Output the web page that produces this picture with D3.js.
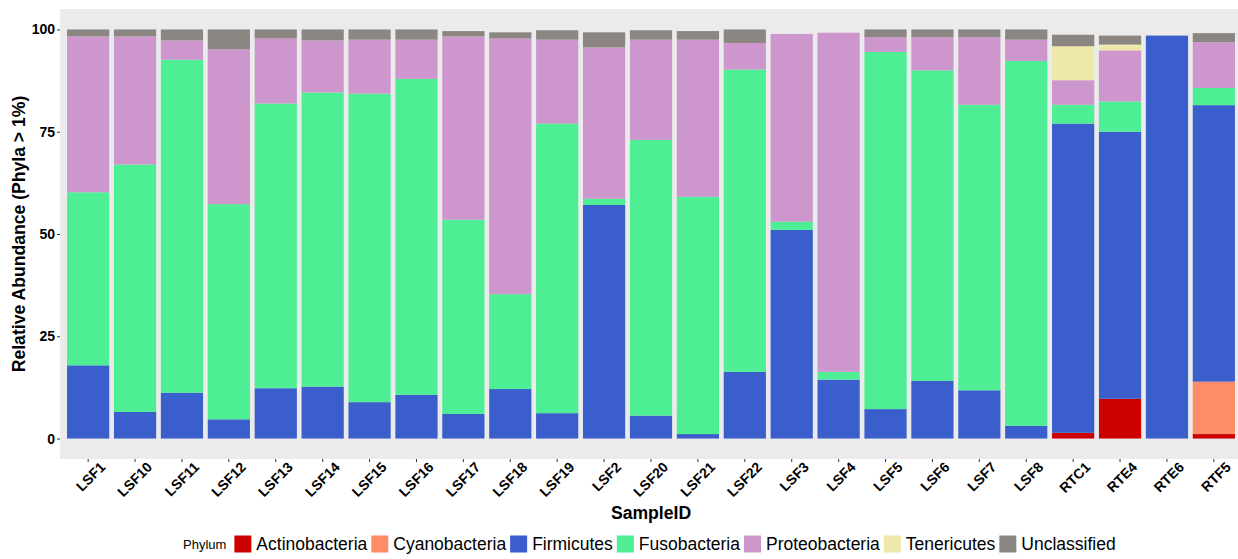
<!DOCTYPE html>
<html>
<head>
<meta charset="utf-8">
<script src="https://cdn.jsdelivr.net/npm/d3@7"></script>
<style>
  html, body { margin: 0; padding: 0; background: #ffffff; }
  svg { display: block; font-family: "Liberation Sans", Arial, sans-serif; }
</style>
</head>
<body>
<svg id="chart" width="1238" height="559"></svg>
<script>
// Samples along the x axis
const samples = ["LSF1", "LSF10", "LSF11", "LSF12", "LSF13", "LSF14", "LSF15", "LSF16", "LSF17",
  "LSF18", "LSF19", "LSF2", "LSF20", "LSF21", "LSF22", "LSF3", "LSF4", "LSF5", "LSF6", "LSF7",
  "LSF8", "RTC1", "RTE4", "RTE6", "RTF5"];

// Relative abundance (%) per phylum, one value per sample
const actinobacteria = [0, 0, 0, 0, 0, 0, 0, 0, 0, 0, 0, 0, 0, 0, 0, 0, 0, 0, 0, 0, 0, 1.4, 9.7, 0, 1.1];
const cyanobacteria  = [0, 0, 0, 0, 0, 0, 0, 0, 0, 0, 0, 0, 0, 0, 0, 0, 0, 0, 0, 0, 0, 0, 0, 0, 12.8];
const firmicutes     = [17.9, 6.5, 11.2, 4.7, 12.3, 12.7, 8.9, 10.7, 6.0, 12.1, 6.2, 57.1, 5.6, 1.1,
  16.3, 51.0, 14.4, 7.2, 14.1, 11.8, 3.1, 75.6, 65.3, 98.5, 67.6];
const fusobacteria   = [42.3, 60.5, 81.4, 52.6, 69.6, 71.9, 75.4, 77.2, 47.5, 23.2, 70.8, 1.5, 67.4, 58.0,
  73.9, 2.0, 1.9, 87.3, 75.9, 69.8, 89.2, 4.6, 7.4, 0, 4.2];
const proteobacteria = [38.1, 31.3, 4.7, 37.8, 15.9, 12.7, 13.2, 9.6, 44.8, 62.5, 20.5, 37.0, 24.5, 38.4,
  6.5, 45.9, 82.9, 3.6, 8.1, 16.5, 5.2, 6.0, 12.5, 0, 11.2];
const tenericutes    = [0, 0, 0, 0, 0, 0, 0, 0, 0, 0, 0, 0, 0, 0, 0, 0, 0, 0, 0, 0, 0, 8.3, 1.4, 0, 0];
const unclassified   = [1.7, 1.7, 2.7, 4.9, 2.2, 2.7, 2.5, 2.5, 1.3, 1.5, 2.3, 3.7, 2.3, 2.1, 3.3, 0, 0,
  1.9, 1.9, 1.9, 2.5, 2.8, 2.2, 0, 2.2];

const phyla = ["Actinobacteria", "Cyanobacteria", "Firmicutes", "Fusobacteria",
  "Proteobacteria", "Tenericutes", "Unclassified"];
const phylumColors = ["#CD0000", "#FF8C69", "#3A5FCD", "#4EEE94", "#CD96CD", "#EEE8AA", "#8B8682"];
const yTicks = [0, 25, 50, 75, 100];

const seriesValues = [actinobacteria, cyanobacteria, firmicutes, fusobacteria,
  proteobacteria, tenericutes, unclassified];

// Build one row per sample for the stack layout
const rows = samples.map((s, i) => {
  const r = { sample: s };
  phyla.forEach((p, k) => { r[p] = seriesValues[k][i]; });
  return r;
});

const svg = d3.select("#chart");

// Panel geometry
const panel = { left: 60, right: 1242, top: 9, bottom: 459 };

const x = d3.scaleBand()
  .domain(samples)
  .range([panel.left, panel.right])
  .paddingInner(0.1)
  .paddingOuter(0.15);

const y = d3.scaleLinear()
  .domain([-5, 105])
  .range([panel.bottom, panel.top]);

const color = d3.scaleOrdinal().domain(phyla).range(phylumColors);

// Panel background
svg.append("rect")
  .attr("x", panel.left)
  .attr("y", panel.top)
  .attr("width", panel.right - panel.left)
  .attr("height", panel.bottom - panel.top)
  .attr("fill", "#EBEBEB");

// Stacked bars
const stacked = d3.stack().keys(phyla)(rows);

svg.append("g")
  .selectAll("g")
  .data(stacked)
  .join("g")
  .attr("fill", d => color(d.key))
  .selectAll("rect")
  .data(d => d.filter(seg => seg[1] - seg[0] > 0))
  .join("rect")
  .attr("x", d => x(d.data.sample))
  .attr("width", x.bandwidth())
  .attr("y", d => y(d[1]))
  .attr("height", d => y(d[0]) - y(d[1]));

// Y axis
const yAxis = svg.append("g")
  .attr("transform", `translate(${panel.left},0)`)
  .call(d3.axisLeft(y).tickValues(yTicks).tickSize(3).tickPadding(2));
yAxis.select(".domain").remove();
yAxis.selectAll(".tick line").attr("stroke", "#333333");
yAxis.selectAll(".tick text")
  .attr("fill", "#000000")
  .style("font-size", "14px")
  .style("font-weight", "bold")
  .style("font-family", "'Liberation Sans', Arial, sans-serif");

// X axis
const xAxis = svg.append("g")
  .attr("transform", `translate(0,${panel.bottom})`)
  .call(d3.axisBottom(x).tickSize(3).tickFormat(""));
xAxis.select(".domain").remove();
xAxis.selectAll(".tick line").attr("stroke", "#333333");

// Rotated sample labels
svg.append("g")
  .selectAll("text")
  .data(samples)
  .join("text")
  .attr("transform", d => `translate(${x(d) + x.bandwidth() / 2 + 18},${panel.bottom + 9}) rotate(-45)`)
  .attr("text-anchor", "end")
  .style("font-size", "14px")
  .style("font-weight", "bold")
  .attr("fill", "#000000")
  .text(d => d);

// Axis titles
svg.append("text")
  .attr("x", (panel.left + panel.right) / 2)
  .attr("y", 519)
  .attr("text-anchor", "middle")
  .style("font-size", "17.6px")
  .style("font-weight", "bold")
  .attr("fill", "#000000")
  .text("SampleID");

svg.append("text")
  .attr("transform", `translate(25,${(panel.top + panel.bottom) / 2}) rotate(-90)`)
  .attr("text-anchor", "middle")
  .style("font-size", "17.6px")
  .style("font-weight", "bold")
  .attr("fill", "#000000")
  .text("Relative Abundance (Phyla > 1%)");

// Legend along the bottom
const legend = svg.append("g");
const keySize = 17;
const legendMid = 544;
let cursor = 183;

const title = legend.append("text")
  .attr("x", cursor)
  .attr("y", legendMid + 5)
  .style("font-size", "13px")
  .attr("fill", "#000000")
  .text("Phylum");
cursor += title.node().getComputedTextLength() + 8;

phyla.forEach(p => {
  legend.append("rect")
    .attr("x", cursor)
    .attr("y", legendMid - keySize / 2)
    .attr("width", keySize)
    .attr("height", keySize)
    .attr("fill", color(p));
  cursor += keySize + 5;
  const t = legend.append("text")
    .attr("x", cursor)
    .attr("y", legendMid + 6)
    .style("font-size", "17.5px")
    .attr("fill", "#000000")
    .text(p);
  cursor += t.node().getComputedTextLength() + 4;
});
</script>
</body>
</html>
